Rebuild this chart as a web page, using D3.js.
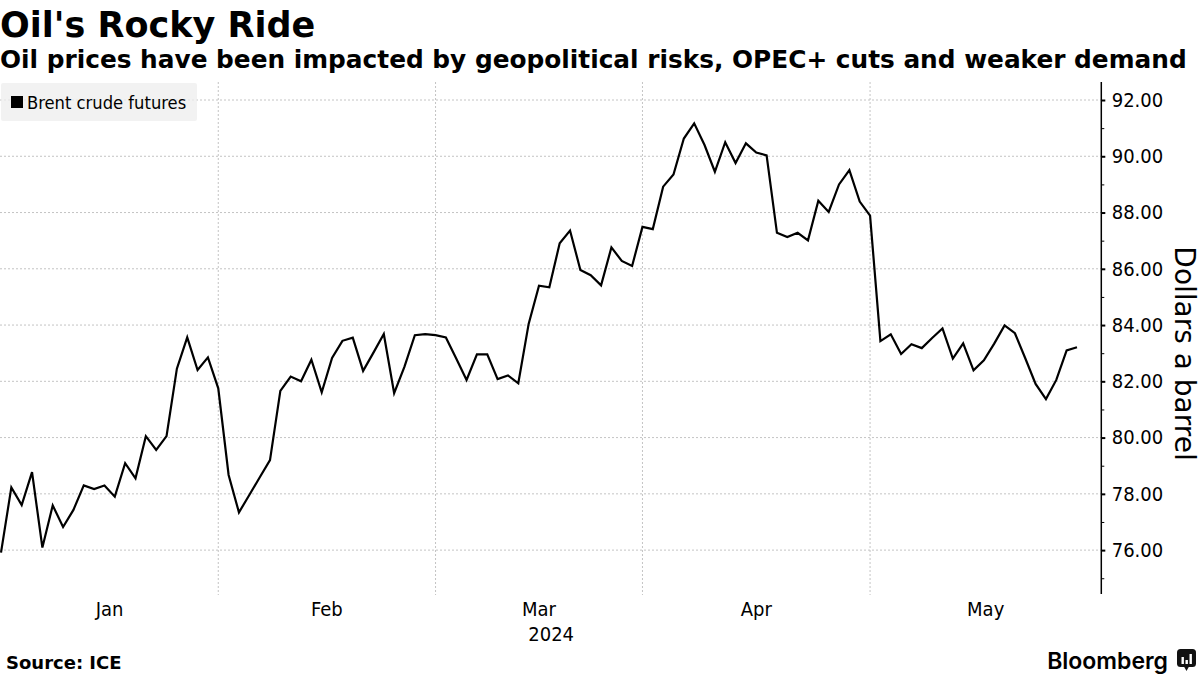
<!DOCTYPE html>
<html>
<head>
<meta charset="utf-8">
<script src="https://cdn.jsdelivr.net/npm/d3@7"></script>
<style>
  html, body { margin: 0; padding: 0; background: #fff; }
  svg { display: block; }
  .cond { font-family: "DejaVu Sans Condensed", "DejaVu Sans", sans-serif; font-stretch: condensed; }
  .reg { font-family: "DejaVu Sans", sans-serif; }
  .bold { font-family: "DejaVu Sans", sans-serif; font-weight: bold; }
</style>
</head>
<body>
<svg id="chart" width="1200" height="675"></svg>
<script>
// Trading days shown on the chart (ICE Brent, 2024)
const dates = [
  "2024-01-02","2024-01-03","2024-01-04","2024-01-05","2024-01-08","2024-01-09","2024-01-10","2024-01-11","2024-01-12",
  "2024-01-15","2024-01-16","2024-01-17","2024-01-18","2024-01-19","2024-01-22","2024-01-23","2024-01-24","2024-01-25",
  "2024-01-26","2024-01-29","2024-01-30","2024-01-31",
  "2024-02-01","2024-02-02","2024-02-05","2024-02-06","2024-02-07","2024-02-08","2024-02-09","2024-02-12","2024-02-13",
  "2024-02-14","2024-02-15","2024-02-16","2024-02-19","2024-02-20","2024-02-21","2024-02-22","2024-02-23","2024-02-26",
  "2024-02-27","2024-02-28","2024-02-29",
  "2024-03-01","2024-03-04","2024-03-05","2024-03-06","2024-03-07","2024-03-08","2024-03-11","2024-03-12","2024-03-13",
  "2024-03-14","2024-03-15","2024-03-18","2024-03-19","2024-03-20","2024-03-21","2024-03-22","2024-03-25","2024-03-26",
  "2024-03-27","2024-03-28",
  "2024-04-01","2024-04-02","2024-04-03","2024-04-04","2024-04-05","2024-04-08","2024-04-09","2024-04-10","2024-04-11",
  "2024-04-12","2024-04-15","2024-04-16","2024-04-17","2024-04-18","2024-04-19","2024-04-22","2024-04-23","2024-04-24",
  "2024-04-25","2024-04-26","2024-04-29","2024-04-30",
  "2024-05-01","2024-05-02","2024-05-03","2024-05-06","2024-05-07","2024-05-08","2024-05-09","2024-05-10","2024-05-13",
  "2024-05-14","2024-05-15","2024-05-16","2024-05-17","2024-05-20","2024-05-21","2024-05-22","2024-05-23","2024-05-24",
  "2024-05-27","2024-05-28"
];

// Brent crude futures, dollars a barrel
const brent = [
  75.91, 78.23, 77.60, 78.77, 76.09, 77.59, 76.82, 77.43, 78.30, 78.17, 78.30, 77.90, 79.09, 78.55, 80.05, 79.56,
  80.05, 82.45, 83.56, 82.40, 82.85, 81.75,
  78.67, 77.34, 77.96, 78.58, 79.20, 81.66, 82.17, 82.00, 82.77, 81.61, 82.83, 83.44, 83.55, 82.37, 83.02, 83.68,
  81.58, 82.52, 83.64, 83.68, 83.64,
  83.56, 82.81, 82.05, 82.96, 82.96, 82.08, 82.21, 81.93, 84.04, 85.40, 85.34, 86.91, 87.36, 85.96, 85.77, 85.41,
  86.76, 86.28, 86.10, 87.49,
  87.41, 88.92, 89.35, 90.63, 91.17, 90.40, 89.45, 90.50, 89.76, 90.46, 90.13, 90.03, 87.28, 87.13, 87.28, 87.01,
  88.42, 88.02, 89.00, 89.51, 88.39, 87.89,
  83.43, 83.67, 82.97, 83.32, 83.18, 83.54, 83.88, 82.81, 83.35, 82.39, 82.75, 83.34, 83.99, 83.71, 82.82, 81.91,
  81.37, 82.05, 83.10, 83.21
];

const monthLabels = ["Jan", "Feb", "Mar", "Apr", "May"];
const yearLabel = "2024";
const yTicks = [76, 78, 80, 82, 84, 86, 88, 90, 92];
const yMinorTicks = [75, 77, 79, 81, 83, 85, 87, 89, 91];

const TITLE = "Oil's Rocky Ride";
const SUBTITLE = "Oil prices have been impacted by geopolitical risks, OPEC+ cuts and weaker demand";
const SERIES_NAME = "Brent crude futures";
const Y_TITLE = "Dollars a barrel";
const SOURCE = "Source: ICE";

//Plot frame
const PLOT_LEFT = 1;
const PLOT_RIGHT = 1101.3;
const PLOT_TOP = 82;
const PLOT_BOTTOM = 594;
const X_END = 106.35;   //x domain runs a little past the last trading day, to the end of May
const Y_MIN = 74.44;
const Y_MAX = 92.64;

const svg = d3.select("#chart");

const x = d3.scaleLinear().domain([0, X_END]).range([PLOT_LEFT, PLOT_RIGHT]);
const y = d3.scaleLinear().domain([Y_MIN, Y_MAX]).range([PLOT_BOTTOM, PLOT_TOP]);

//Last trading day of each month, used for the vertical grid lines
const monthEnds = [];
for (let i = 0; i < dates.length - 1; i++)
  if (dates[i].substring(5, 7) != dates[i + 1].substring(5, 7))
    monthEnds.push(i);

//Horizontal grid
svg.append("g")
  .selectAll("line")
  .data(yTicks)
  .enter()
  .append("line")
  .attr("x1", 0)
  .attr("x2", PLOT_RIGHT)
  .attr("y1", d => y(d))
  .attr("y2", d => y(d))
  .attr("stroke", "#c4c4c4")
  .attr("stroke-width", 1)
  .attr("stroke-dasharray", "2,2");

//Vertical grid
svg.append("g")
  .selectAll("line")
  .data(monthEnds)
  .enter()
  .append("line")
  .attr("x1", d => x(d))
  .attr("x2", d => x(d))
  .attr("y1", PLOT_TOP)
  .attr("y2", PLOT_BOTTOM + 1)
  .attr("stroke", "#c4c4c4")
  .attr("stroke-width", 1)
  .attr("stroke-dasharray", "2,2");

//Legend
const legend = svg.append("g");
legend.append("rect")
  .attr("x", 1).attr("y", 83)
  .attr("width", 196).attr("height", 38)
  .attr("rx", 2)
  .attr("fill", "#eeeeee")
  .attr("fill-opacity", 0.75);
legend.append("rect")
  .attr("x", 11).attr("y", 96)
  .attr("width", 12).attr("height", 12)
  .attr("fill", "#000");
legend.append("text")
  .attr("class", "cond")
  .attr("x", 27).attr("y", 108.5)
  .attr("font-size", 18.2)
  .attr("fill", "#000")
  .text(SERIES_NAME);

//Price line
const line = d3.line()
  .x((d, i) => x(i))
  .y(d => y(d));

svg.append("path")
  .datum(brent)
  .attr("fill", "none")
  .attr("stroke", "#000")
  .attr("stroke-width", 2.2)
  .attr("stroke-linejoin", "miter")
  .attr("d", line);

//Right axis
svg.append("line")
  .attr("x1", PLOT_RIGHT).attr("x2", PLOT_RIGHT)
  .attr("y1", PLOT_TOP).attr("y2", PLOT_BOTTOM)
  .attr("stroke", "#000")
  .attr("stroke-width", 1.5);

const yAxis = svg.append("g")
  .attr("transform", "translate(" + PLOT_RIGHT + ",0)")
  .call(d3.axisRight(y).tickValues(yTicks).tickFormat(d3.format(".2f")).tickSize(4).tickPadding(6.4).tickSizeOuter(0));
yAxis.select(".domain").remove();
yAxis.selectAll(".tick line").attr("stroke", "#000").attr("stroke-width", 2);
yAxis.selectAll(".tick text")
  .attr("class", "cond")
  .attr("font-size", 20)
  .attr("fill", "#000");

const yMinor = svg.append("g")
  .attr("transform", "translate(" + PLOT_RIGHT + ",0)")
  .call(d3.axisRight(y).tickValues(yMinorTicks).tickFormat("").tickSize(3).tickSizeOuter(0));
yMinor.select(".domain").remove();
yMinor.selectAll(".tick line").attr("stroke", "#000").attr("stroke-width", 1);

svg.append("text")
  .attr("class", "reg")
  .attr("transform", "translate(1175,353.5) rotate(90)")
  .attr("text-anchor", "middle")
  .attr("font-size", 28)
  .attr("fill", "#000")
  .text(Y_TITLE);

//Month labels, centred between grid lines
const bounds = [0].concat(monthEnds).concat([X_END]);
svg.append("g")
  .selectAll("text")
  .data(monthLabels)
  .enter()
  .append("text")
  .attr("class", "cond")
  .attr("x", (d, i) => (x(bounds[i]) + x(bounds[i + 1])) / 2)
  .attr("y", 616)
  .attr("text-anchor", "middle")
  .attr("font-size", 20)
  .attr("fill", "#000")
  .text(d => d);

svg.append("text")
  .attr("class", "cond")
  .attr("x", (x(0) + x(X_END)) / 2)
  .attr("y", 641)
  .attr("text-anchor", "middle")
  .attr("font-size", 20)
  .attr("fill", "#000")
  .text(yearLabel);

//Titles
svg.append("text")
  .attr("class", "bold")
  .attr("x", 0).attr("y", 37)
  .attr("font-size", 35)
  .attr("fill", "#000")
  .text(TITLE);

svg.append("text")
  .attr("class", "bold")
  .attr("x", 0).attr("y", 68)
  .attr("font-size", 24.8)
  .attr("fill", "#000")
  .text(SUBTITLE);

//Footer
svg.append("text")
  .attr("class", "bold")
  .attr("x", 6).attr("y", 669)
  .attr("font-size", 18)
  .attr("fill", "#000")
  .text(SOURCE);

svg.append("text")
  .attr("x", 1168).attr("y", 669)
  .attr("text-anchor", "end")
  .attr("font-family", "Inter, 'Liberation Sans', sans-serif")
  .attr("font-weight", 600)
  .attr("font-size", 23)
  .attr("fill", "#000")
  .text("Bloomberg");

//Bloomberg mark
const mark = svg.append("g").attr("transform", "translate(1177,649)");
mark.append("rect")
  .attr("x", 0).attr("y", 0)
  .attr("width", 19).attr("height", 18)
  .attr("rx", 3.5)
  .attr("fill", "#111");
mark.append("path")
  .attr("d", "M7,17.5 L9.5,22 L12,17.5 Z")
  .attr("fill", "#111");
mark.selectAll(".bar")
  .data([[4.5, 7], [8.5, 4], [12.5, 10]])
  .enter()
  .append("rect")
  .attr("x", d => d[0])
  .attr("y", d => 15 - d[1])
  .attr("width", 2.4)
  .attr("height", d => d[1])
  .attr("fill", "#fff");
</script>
</body>
</html>
